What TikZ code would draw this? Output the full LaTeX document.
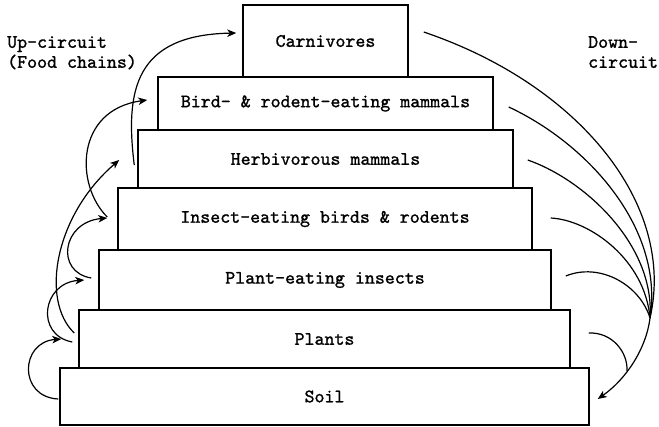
\documentclass[tikz,border=0pt]{standalone}
\usepackage{fontspec}
\newfontfamily\twfont{lmmono10-regular.otf}[FakeBold=1.2]
\usetikzlibrary{arrows.meta,calc}
\begin{document}
\begin{tikzpicture}[x=1pt,y=-1pt,
  txt/.style={font={\fontsize{19}{20}\selectfont\twfont}},
  tier/.style={txt, draw, line width=1.5pt, inner sep=0pt},
  link/.style={line width=1.2pt},
  arr/.style={link, -{Stealth[length=9pt,width=7.5pt,inset=2.5pt]}}]
\useasboundingbox (0,0) rectangle (659,426);
% tiers
\node[tier, minimum width=529pt, minimum height=57pt] (soil)   at (324.5,396.5) {Soil};
\node[tier, minimum width=491pt, minimum height=58pt] (plants) at (324.5,339) {Plants};
\node[tier, minimum width=452pt, minimum height=60pt] (pins)   at (325,280) {Plant-eating insects};
\node[tier, minimum width=414pt, minimum height=62pt] (insect) at (325,219) {Insect-eating birds \& rodents};
\node[tier, minimum width=375pt, minimum height=58pt] (herb)   at (325.5,159) {Herbivorous mammals};
\node[tier, minimum width=335pt, minimum height=53pt] (bird)   at (325.5,103.5) {Bird- \& rodent-eating mammals};
\node[tier, minimum width=165pt, minimum height=72pt] (carn)   at (325.5,41) {Carnivores};
% labels
\node[txt, anchor=north west, align=left, inner sep=0pt] (up) at (7,36) {Up-circuit\\(Food chains)};
\node[txt, anchor=north west, align=left, inner sep=0pt] (down) at (588,36) {Down-\\circuit};
% up-circuit arrows
\draw[arr] ($(soil.west)+(-1,2.5)$) .. controls (18,397) and (20,342) .. ($(plants.west)+(-17,0)$);
\draw[arr] ($(plants.west)+(-6,3)$) .. controls (35,335) and (42,283) .. ($(pins.west)+(-14,0)$);
\draw[arr] ($(pins.west)+(-7,-2)$) .. controls (55,272) and (62,222) .. ($(insect.west)+(-10,-1)$);
\draw[arr] ($(plants.west)+(-4,-6)$) .. controls (40,300) and (55,215) .. ($(herb.west)+(-18,1)$);
\draw[arr] ($(insect.west)+(-10,-2)$) .. controls (75,185) and (75,110) .. ($(bird.west)+(-10,-3.5)$);
\draw[arr] ($(herb.west)+(-3,6)$) .. controls (125,90) and (135,35) .. ($(carn.west)+(-6,-8)$);
% down-circuit
\coordinate (m) at (650,318);
\coordinate (t) at ($(soil.east)+(8,2.5)$);
\coordinate (j) at (627,371);
\draw[link] ($(carn.east)+(15,-9)$) .. controls (580,85) and (676,205) .. (m);
\draw[link] ($(bird.east)+(15,3.5)$) .. controls (590,145) and (664,230) .. (m);
\draw[link] ($(herb.east)+(14,1)$) .. controls (585,180) and (655,245) .. (m);
\draw[link] ($(insect.east)+(18,-1)$) .. controls (590,220) and (645,260) .. (m);
\draw[link] ($(pins.east)+(14,-4)$) .. controls (600,262) and (640,285) .. (m);
\draw[link] ($(plants.east)+(18,-6)$) .. controls (612,332) and (628,352) .. (j);
\draw[arr] (m) .. controls (646,350) and (625,380) .. (t);
\end{tikzpicture}
\end{document}
